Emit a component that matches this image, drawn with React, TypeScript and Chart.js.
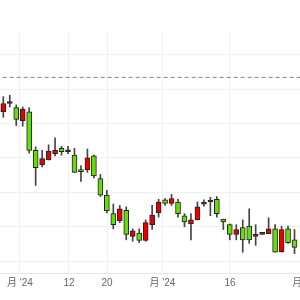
import React, { useEffect, useRef } from "react";
import { Chart, registerables } from "chart.js";

Chart.register(...registerables);

// OHLC per trading day (red = up, green = down)
const opens = [12.67, 12.79, 12.73, 12.54, 12.67, 12.11, 11.90, 11.97, 12.06, 12.14, 12.09, 12.04, 11.81, 11.83, 12.03, 11.70,
  11.46, 11.19, 11.09, 11.24, 10.86, 10.91, 10.80,
  11.03, 11.20, 11.39, 11.34, 11.36, 11.16, 11.04, 11.10, 11.33, 11.36, 11.40, 11.11, 11.03, 10.89, 10.99, 11.01, 10.86, 10.89, 10.90, 10.97, 10.64, 10.97, 10.81];
const highs = [12.89, 12.91, 12.77, 12.74, 12.73, 12.16, 12.11, 12.19, 12.29, 12.17, 12.17, 12.14, 11.89, 12.13, 12.04, 11.76,
  11.53, 11.33, 11.31, 11.29, 10.97, 10.97, 11.10,
  11.31, 11.40, 11.41, 11.47, 11.40, 11.19, 11.19, 11.36, 11.39, 11.43, 11.44, 11.11, 11.04, 11.03, 11.10, 11.26, 11.03, 10.89, 11.13, 11.03, 11.01, 11.01, 10.96];
const lows = [12.59, 12.74, 12.47, 12.46, 12.07, 11.60, 11.87, 11.97, 12.03, 12.04, 12.06, 11.79, 11.66, 11.79, 11.71, 11.44,
  11.20, 10.97, 11.06, 10.81, 10.79, 10.77, 10.79,
  10.96, 11.14, 11.31, 11.31, 11.14, 11.00, 10.81, 11.10, 11.30, 11.16, 11.14, 10.96, 10.81, 10.81, 10.63, 10.76, 10.73, 10.89, 10.90, 10.63, 10.63, 10.76, 10.61];
const closes = [12.79, 12.79, 12.56, 12.71, 12.11, 11.86, 11.99, 12.10, 12.11, 12.09, 12.09, 11.79, 11.80, 12.00, 11.74, 11.46,
  11.23, 11.03, 11.26, 10.89, 10.94, 10.80, 11.06,
  11.17, 11.36, 11.34, 11.41, 11.19, 11.07, 11.10, 11.29, 11.33, 11.36, 11.19, 11.07, 10.89, 10.96, 10.81, 10.81, 10.89, 10.89, 10.97, 10.63, 10.96, 10.77, 10.70];

// x-axis date ticks (position in trading-day index, label)
const tickPositions = [2.58, 10.15, 16.03, 24.6, 35.03, 46.65];
const tickLabels = ["月 '24", "12", "20", "月 '24", "16", "月 '24"];

// price grid and reference line
const priceGrid = [10.5, 11.0, 11.5, 12.0, 12.5, 13.0, 13.5];
const refPrice = 13.17;
const yMin = 10.3286;
const yMax = 13.8286;
const xMin = -0.51;
const xMax = 52.03;

const UP = "#e60000";
const DOWN = "#66dd00";
const DOJI = "#333333";

export default function App() {
  const ref = useRef<HTMLCanvasElement | null>(null);

  useEffect(() => {
    document.body.style.margin = "0";
    const canvas = ref.current!;
    const idx = opens.map((_, i) => i);
    const bodyColors = idx.map((i) =>
      closes[i] > opens[i] ? UP : closes[i] < opens[i] ? DOWN : DOJI
    );
    const chart = new Chart(canvas, {
      type: "bar",
      data: {
        datasets: [
          {
            type: "bar",
            data: idx.map((i) => ({ x: i, y: [opens[i], closes[i]] })) as any,
            backgroundColor: bodyColors,
            borderColor: "#222222",
            borderWidth: 1,
            borderSkipped: false,
            barThickness: 5,
            minBarLength: 2,
            grouped: false,
          } as any,
          {
            type: "bar",
            data: idx.map((i) => ({ x: i, y: [lows[i], highs[i]] })) as any,
            backgroundColor: "#444444",
            borderWidth: 0,
            barThickness: 1,
            grouped: false,
          } as any,
          {
            type: "line",
            data: [
              { x: xMin - 5, y: refPrice },
              { x: xMax + 5, y: refPrice },
            ],
            borderColor: "#808080",
            borderWidth: 1,
            borderDash: [4, 3],
            pointRadius: 0,
          } as any,
        ],
      },
      options: {
        responsive: false,
        animation: false,
        events: [],
        layout: { padding: { top: 32, bottom: 7, left: 0, right: 0 } },
        plugins: { legend: { display: false }, tooltip: { enabled: false } },
        scales: {
          x: {
            type: "linear",
            min: xMin,
            max: xMax,
            offset: false,
            afterBuildTicks: (scale: any) => {
              scale.ticks = tickPositions.map((v) => ({ value: v }));
            },
            ticks: {
              autoSkip: false,
              maxRotation: 0,
              padding: 4,
              color: "#666666",
              font: { family: "'Liberation Sans', 'Noto Sans CJK SC', sans-serif", size: 10 },
              callback: (v: any) => {
                const k = tickPositions.indexOf(Number(v));
                return k >= 0 ? tickLabels[k] : "";
              },
            },
            grid: { color: "#f0f0f0", drawTicks: false, offset: false },
            border: { color: "#e6e6e6" },
          },
          y: {
            type: "linear",
            min: yMin,
            max: yMax,
            afterBuildTicks: (scale: any) => {
              scale.ticks = priceGrid.map((v) => ({ value: v }));
            },
            ticks: { display: false },
            grid: { color: "#f0f0f0", drawTicks: false },
            border: { display: false },
          },
        },
      } as any,
    });
    return () => chart.destroy();
  }, []);

  return (
    <div style={{ width: 300, height: 300, overflow: "hidden", position: "relative", background: "#fff" }}>
      <canvas ref={ref} width={340} height={300} style={{ display: "block" }} />
    </div>
  );
}
